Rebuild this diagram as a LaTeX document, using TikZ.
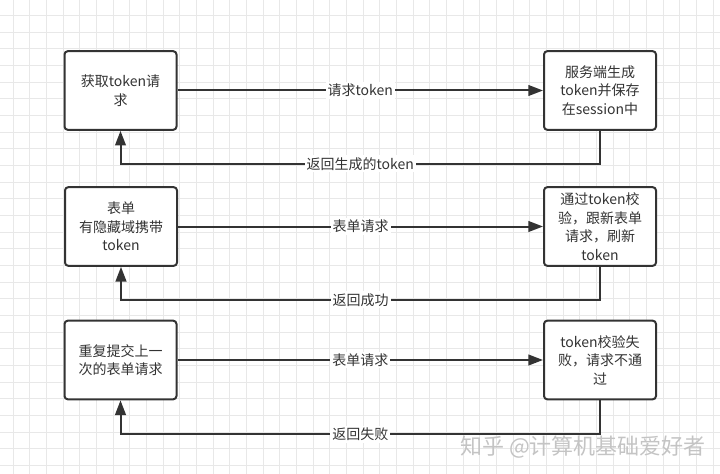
\documentclass[tikz,border=0pt]{standalone}
\usepackage{fontspec}
\setmainfont{Noto Sans CJK SC}
\usetikzlibrary{arrows.meta}
\definecolor{ink}{HTML}{333333}
\definecolor{gridc}{HTML}{E8E8E8}
\definecolor{wm}{HTML}{C4C4C4}
\tikzset{
  box/.style={draw=ink,line width=1.5pt,rounded corners=2.5pt,fill=white,
    minimum width=84pt,minimum height=59pt,inner sep=0pt,align=center,
    text=ink,font=\fontsize{10.5}{13.9}\selectfont},
  conn/.style={draw=ink,line width=1.5pt,-{Triangle[length=11pt,width=8pt]}},
  lab/.style={fill=white,text=ink,inner sep=1.5pt,font=\fontsize{10.5}{13.9}\selectfont},
}
\begin{document}
\begin{tikzpicture}[x=0.75pt,y=-0.75pt]
\useasboundingbox (0,0) rectangle (720,474);
\fill[white] (0,0) rectangle (720,474);
\foreach \i in {0,...,43} {\draw[gridc,line width=0.75pt] (13+\i*16.67,0) -- (13+\i*16.67,474);}
\foreach \i in {0,...,28} {\draw[gridc,line width=0.75pt] (0,15.5+\i*16.67) -- (720,15.5+\i*16.67);}

\node[box] (a1) at (120.5,90.5) {获取token请\\求};
\node[box] (b1) at (600,90.5) {服务端生成\\token并保存\\在session中};
\node[box] (a2) at (121,226.5) {表单\\有隐藏域携带\\token};
\node[box] (b2) at (600,226.5) {通过token校\\验，跟新表单\\请求，刷新\\token};
\node[box] (a3) at (120.5,360) {重复提交上一\\次的表单请求};
\node[box] (b3) at (600,360) {token校验失\\败，请求不通\\过};

\draw[conn] (a1) -- node[lab] {请求token} (b1);
\draw[conn] (b1.south) -- ++(0,33) -| node[lab,pos=0.25] {返回生成的token} (a1.south);
\draw[conn] (a2) -- node[lab] {表单请求} (b2);
\draw[conn] (b2.south) -- ++(0,33) -| node[lab,pos=0.25] {返回成功} (a2.south);
\draw[conn] (a3) -- node[lab] {表单请求} (b3);
\draw[conn] (b3.south) -- ++(0,34) -| node[lab,pos=0.25] {返回失败} (a3.south);

\node[text=wm,font=\fontsize{16.5}{16.5}\selectfont] (wmk) at (583,447) {知乎 @计算机基础爱好者};
\end{tikzpicture}
\end{document}
